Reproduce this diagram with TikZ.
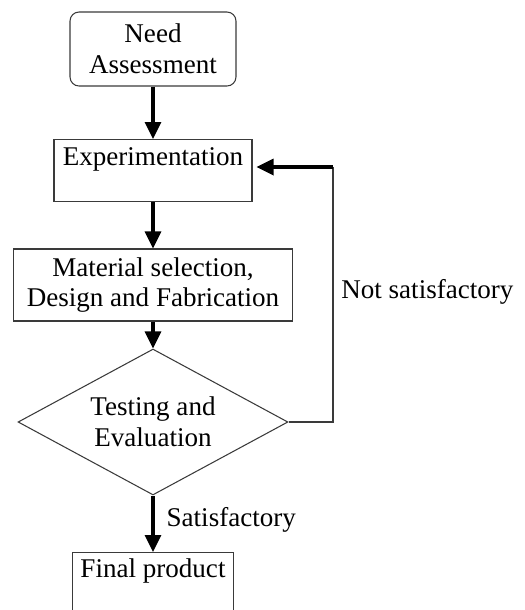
\documentclass[tikz,border=0pt]{standalone}
\usepackage{fontspec}
\setmainfont{Liberation Serif}
\usepackage{tikz}
\usetikzlibrary{arrows.meta,shapes.geometric}
\definecolor{edgex}{HTML}{3A3A3A}
\newcommand{\fs}{\fontsize{15.4}{17.6}\selectfont}
\tikzset{
  rb/.style={draw=edgex,line width=0.6pt,rounded corners=0.18cm,align=center,inner sep=0pt,minimum width=3.32cm,minimum height=1.48cm,font=\fs},
  bx/.style={draw=edgex,line width=0.6pt,inner sep=0pt,font=\fs},
  dm/.style={diamond,draw=edgex,line width=0.6pt,align=center,inner sep=0pt,aspect=1.85,minimum width=5.4cm,minimum height=2.92cm,font=\fs},
  ar/.style={-{Triangle[length=0.34cm,width=0.32cm]},line width=1.9pt},
  ln/.style={draw=edgex,line width=0.6pt},
  lb/.style={font=\fs,inner sep=0pt,anchor=west}
}
\begin{document}
\begin{tikzpicture}[x=0.02cm,y=-0.02cm]
\useasboundingbox (0,0) rectangle (525,610);
\node[rb] (need) at (153,49) {Need\\Assessment};
\node[bx,anchor=north,minimum width=3.96cm,text height=0.52cm,text depth=0.72cm] (exp) at (153,139) {Experimentation};
\node[bx,align=center,minimum width=5.58cm,minimum height=1.44cm] (mat) at (153,285) {Material selection,\\Design and Fabrication};
\node[dm] (test) at (153,422) {Testing and\\Evaluation};
\node[bx,anchor=north,minimum width=3.22cm,text height=0.5cm,text depth=2cm] (fin) at (153,552) {Final product};
\coordinate (c1) at (333,167);
\draw[ar] (need) -- (exp);
\draw[ar] (exp) -- (mat);
\draw[ar] (mat) -- (test);
\draw[ar] (test) -- (fin) node[lb,pos=0.43,xshift=0.24cm] (sat) {Satisfactory};
\draw[ln] (test.east) -| (c1);
\draw[ar] (c1) -- ([xshift=0.08cm]c1 -| exp.east);
\node[lb] (nsat) at (341,292) {Not satisfactory};
\end{tikzpicture}
\end{document}
